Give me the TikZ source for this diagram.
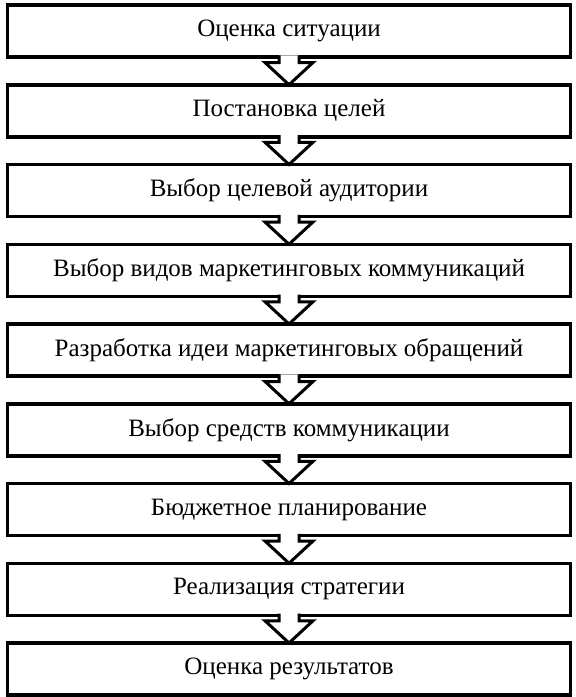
\documentclass[tikz,border=0pt]{standalone}
\usepackage{fontspec}
\setmainfont{Liberation Serif}
\usetikzlibrary{positioning, calc}

\tikzset{
    stage/.style={draw, line width=3.5pt, minimum width=563pt, minimum height=52pt,
        inner sep=0pt, outer sep=0pt, font=\fontsize{25}{29}\selectfont},
    flow/.style={draw, line width=3pt, fill=white, line join=miter},
}

\begin{document}
\begin{tikzpicture}[x=1pt, y=1pt, node distance=27.75pt]
    \useasboundingbox (0,0) rectangle (576,-697);

    % Stages of the strategy
    \node[stage] (eval) at (289,-31) {Оценка ситуации};
    \node[stage, below=of eval] (goals) {Постановка целей};
    \node[stage, below=of goals] (target) {Выбор целевой аудитории};
    \node[stage, below=of target] (kinds) {Выбор видов маркетинговых коммуникаций};
    \node[stage, below=of kinds] (idea) {Разработка идеи маркетинговых обращений};
    \node[stage, below=of idea] (media) {Выбор средств коммуникации};
    \node[stage, below=of media] (budget) {Бюджетное планирование};
    \node[stage, below=of budget] (impl) {Реализация стратегии};
    \node[stage, below=of impl] (result) {Оценка результатов};

    % Block arrows between stages
    \foreach \a/\b in {eval/goals, goals/target, target/kinds, kinds/idea,
                       idea/media, media/budget, budget/impl, impl/result} {
        \draw[flow] ($(\a.south)+(-10,1.75)$) -- ++(0,-7.25) -- ++(-14,0)
            -- (\b.north) -- ($(\a.south)+(24,-5.5)$) -- ++(-14,0) -- ++(0,7.25);
    }
\end{tikzpicture}
\end{document}
